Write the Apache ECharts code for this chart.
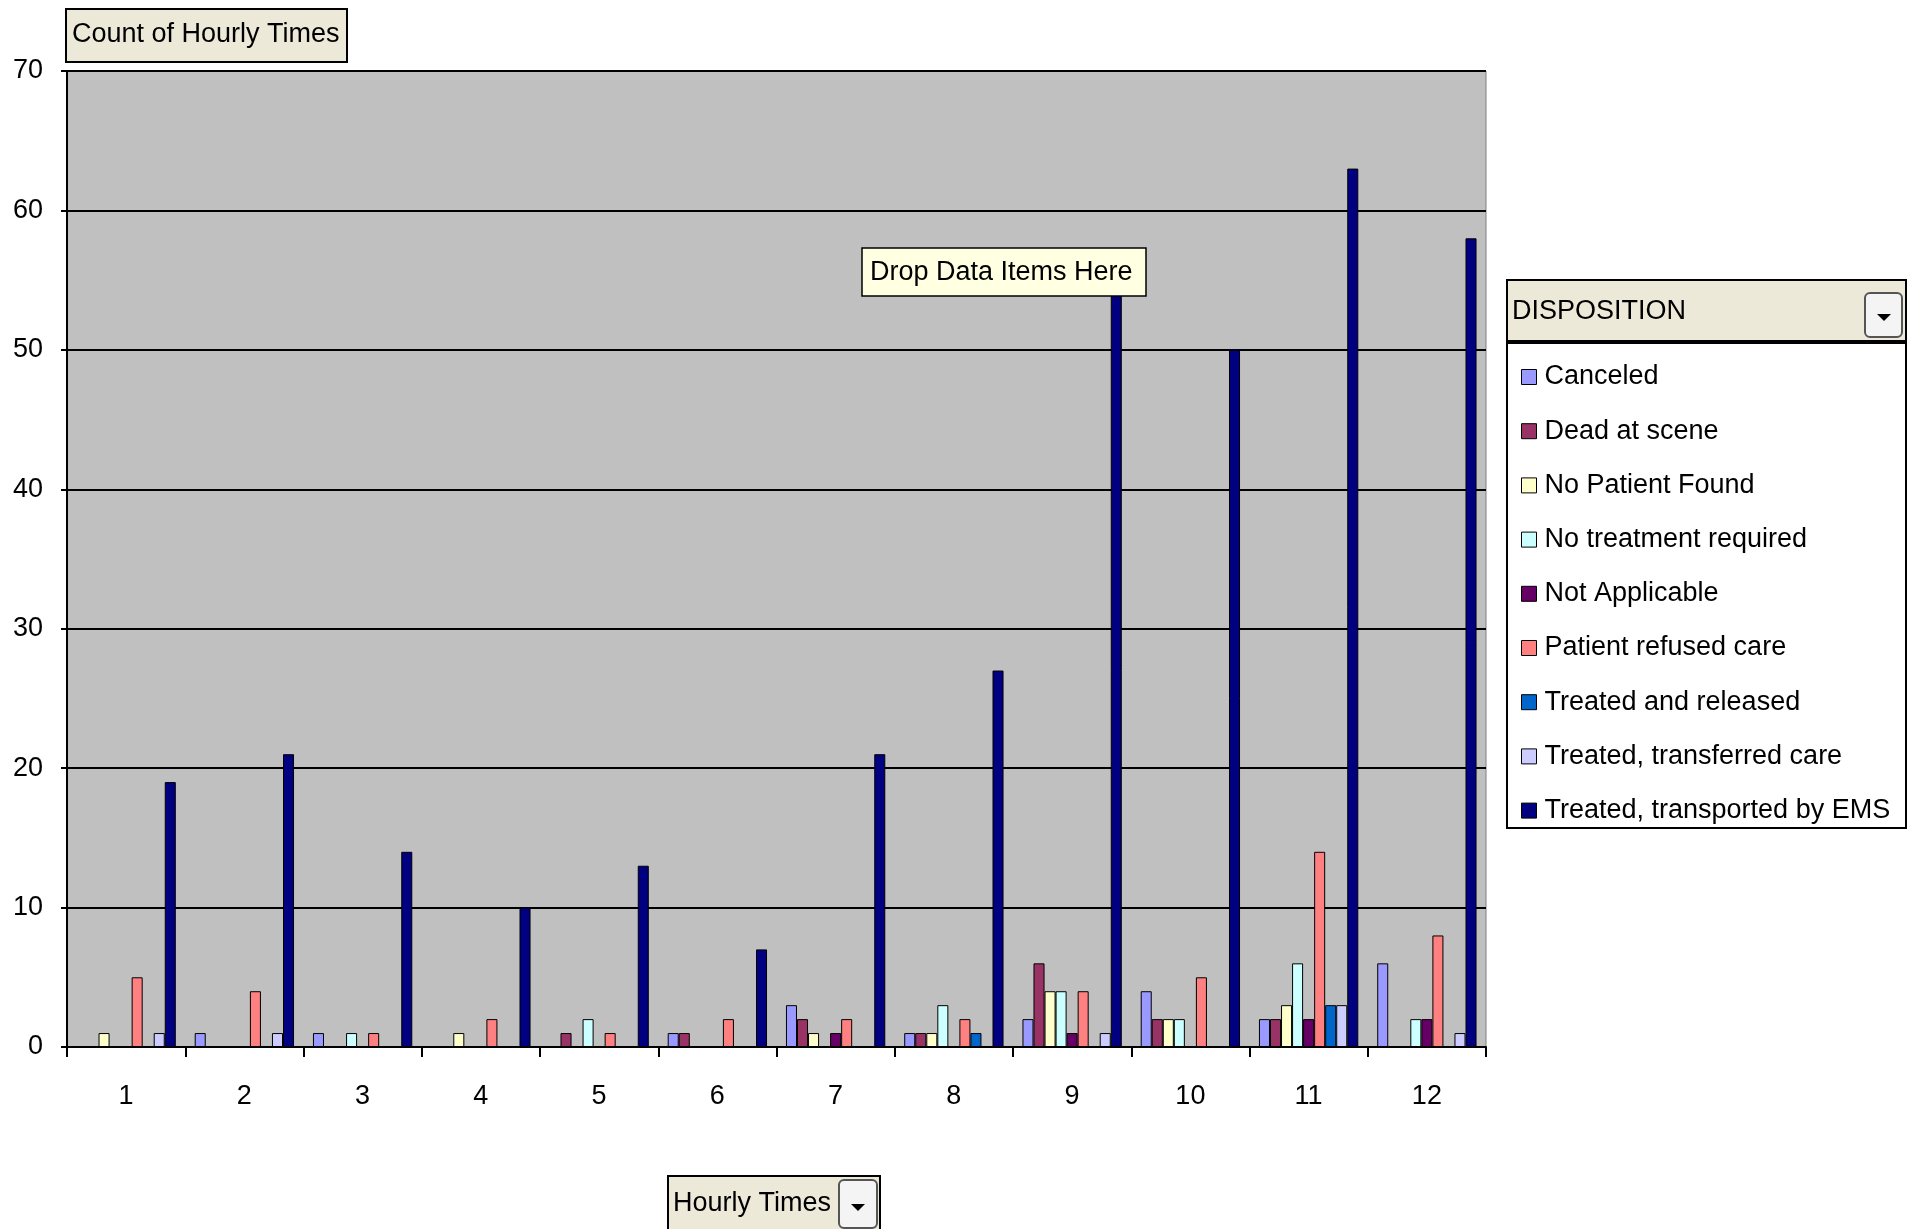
<!DOCTYPE html>
<html>
<head>
<meta charset="utf-8">
<script src="https://cdn.jsdelivr.net/npm/echarts@6/dist/echarts.min.js"></script>
<style>
html,body{margin:0;padding:0;background:#fff;}
#chart{width:1915px;height:1229px;}
</style>
</head>
<body>
<div id="chart"></div>
<script>
var categories = ['1','2','3','4','5','6','7','8','9','10','11','12'];
var seriesNames = ['Canceled','Dead at scene','No Patient Found','No treatment required','Not Applicable','Patient refused care','Treated and released','Treated, transferred care','Treated, transported by EMS'];
var canceled            = [0,1,1,0,0,1,3,1,2,4,2,6];
var deadAtScene         = [0,0,0,0,1,1,2,1,6,2,2,0];
var noPatientFound      = [1,0,0,1,0,0,1,1,4,2,3,0];
var noTreatmentRequired = [0,0,1,0,2,0,0,3,4,2,6,2];
var notApplicable       = [0,0,0,0,0,0,1,0,1,0,2,2];
var patientRefusedCare  = [5,4,1,2,1,2,2,2,4,5,14,8];
var treatedReleased     = [0,0,0,0,0,0,0,1,0,0,3,0];
var treatedTransferred  = [1,1,0,0,0,0,0,0,1,0,3,1];
var treatedTransported  = [19,21,14,10,13,7,21,27,54,50,63,58];
var yTicks = [0,10,20,30,40,50,60,70];

var seriesValues = [canceled, deadAtScene, noPatientFound, noTreatmentRequired, notApplicable, patientRefusedCare, treatedReleased, treatedTransferred, treatedTransported];
var colors = ['#9999FF','#993366','#FFFFCC','#CCFFFF','#660066','#FF8080','#0066CC','#CCCCFF','#000080'];
var FONT = '"Liberation Sans", Arial, sans-serif';

var chart = echarts.init(document.getElementById('chart'), null, {renderer:'canvas'});

var series = seriesNames.map(function(name, i){
  return {
    name: name,
    type: 'bar',
    barGap: '0%',
    barCategoryGap: '16%',
    data: seriesValues[i].map(function(v){ return v === 0 ? '-' : v; }),
    itemStyle: {color: colors[i], borderColor: '#000', borderWidth: 1},
    emphasis: {disabled: true}
  };
});

var option = {
  animation: false,
  backgroundColor: '#ffffff',
  color: colors,
  grid: {left: 67, top: 71, width: 1419, height: 976, show: true, backgroundColor: '#C0C0C0', borderColor: '#808080', borderWidth: 1},
  xAxis: {
    type: 'category',
    data: categories,
    boundaryGap: true,
    axisLine: {show: true, lineStyle: {color: '#000', width: 2}},
    axisTick: {show: true, length: 10, lineStyle: {color: '#000', width: 2}},
    axisLabel: {color: '#000', fontSize: 27, fontFamily: FONT, margin: 36},
    splitLine: {show: false}
  },
  yAxis: {
    type: 'value',
    min: yTicks[0],
    max: yTicks[yTicks.length-1],
    interval: 10,
    axisLine: {show: true, lineStyle: {color: '#000', width: 2}},
    axisTick: {show: true, length: 6, lineStyle: {color: '#000', width: 2}},
    axisLabel: {color: '#000', fontSize: 27, fontFamily: FONT, margin: 24},
    splitLine: {show: true, lineStyle: {color: '#000', width: 2}}
  },
  legend: {
    orient: 'vertical',
    left: 1516,
    top: 357,
    itemWidth: 15,
    itemHeight: 15,
    itemGap: 24.2,
    icon: 'rect',
    selectedMode: false,
    itemStyle: {borderColor: '#000', borderWidth: 1},
    textStyle: {color: '#000', fontSize: 27, fontFamily: FONT, lineHeight: 30, padding: [0,0,0,3]},
    data: seriesNames
  },
  series: series,
  graphic: [
    // Count of Hourly Times box
    {type:'rect', z:100, shape:{x:66,y:9,width:281,height:53}, style:{fill:'#ECE9D8', stroke:'#000', lineWidth:2}},
    {type:'text', z:101, x:72, y:35, style:{text:'Count of Hourly Times', fontSize:27, fontFamily:FONT, fill:'#000', verticalAlign:'middle'}},
    // Drop Data Items Here
    {type:'rect', z:100, shape:{x:862,y:248,width:284,height:48}, style:{fill:'#FFFFE1', stroke:'#000', lineWidth:1.5}},
    {type:'text', z:101, x:870, y:273, style:{text:'Drop Data Items Here', fontSize:27, fontFamily:FONT, fill:'#000', verticalAlign:'middle'}},
    // Legend outer box
    {type:'rect', z:-1, shape:{x:1507,y:280,width:399,height:548}, style:{fill:'#fff', stroke:'#000', lineWidth:2}},
    {type:'rect', z:100, shape:{x:1508,y:281,width:397,height:60}, style:{fill:'#ECE9D8'}},
    {type:'line', z:101, shape:{x1:1507,y1:342,x2:1906,y2:342}, style:{stroke:'#000', lineWidth:4}},
    {type:'text', z:101, x:1512, y:312, style:{text:'DISPOSITION', fontSize:27, fontFamily:FONT, fill:'#000', verticalAlign:'middle'}},
    {type:'rect', z:101, shape:{x:1865,y:293,width:37,height:44,r:5}, style:{fill:'#F4F4F4', stroke:'#555', lineWidth:2}},
    {type:'polygon', z:102, shape:{points:[[1877,314],[1891,314],[1884,321]]}, style:{fill:'#000'}},
    // Hourly Times box
    {type:'rect', z:100, shape:{x:668,y:1176,width:212,height:60}, style:{fill:'#ECE9D8', stroke:'#000', lineWidth:2}},
    {type:'text', z:101, x:673, y:1204, style:{text:'Hourly Times', fontSize:27, fontFamily:FONT, fill:'#000', verticalAlign:'middle'}},
    {type:'rect', z:101, shape:{x:839,y:1180,width:38,height:48,r:5}, style:{fill:'#F4F4F4', stroke:'#555', lineWidth:2}},
    {type:'polygon', z:102, shape:{points:[[851,1204],[865,1204],[858,1211]]}, style:{fill:'#000'}}
  ]
};
chart.setOption(option);
</script>
</body>
</html>
